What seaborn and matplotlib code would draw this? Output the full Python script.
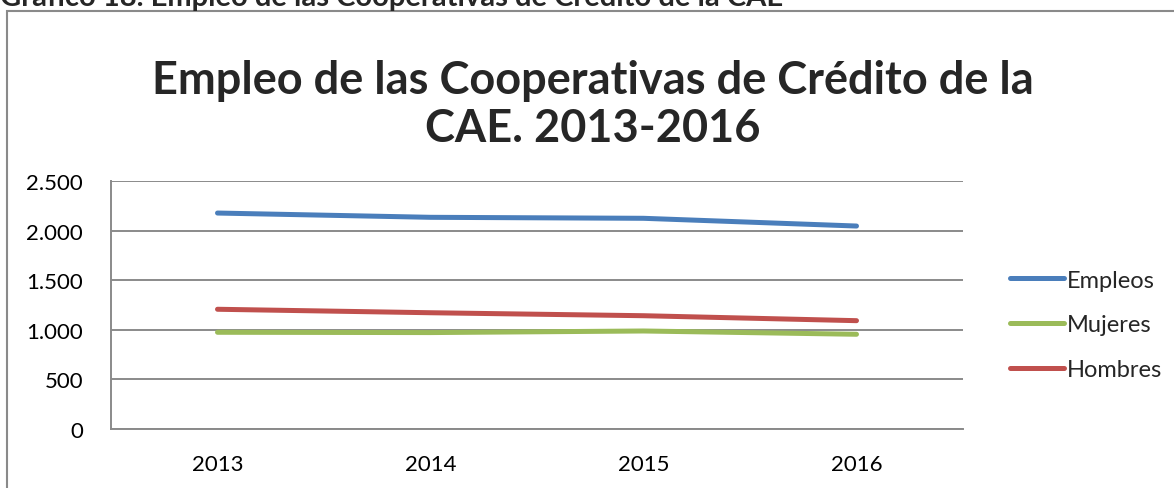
import pandas as pd
import matplotlib
matplotlib.use("Agg")
from matplotlib import pyplot as plt
from matplotlib.patches import Rectangle
import seaborn as sns

# data
years = ["2013", "2014", "2015", "2016"]
empleos = [2177, 2134, 2124, 2046]
mujeres = [975, 972, 988, 955]
hombres = [1207, 1172, 1142, 1092]

series_names = ["Empleos", "Mujeres", "Hombres"]
colors = ["#4A7EBB", "#9BBB59", "#C0504D"]

df = pd.DataFrame({"year": years * 3,
                   "valor": empleos + mujeres + hombres,
                   "serie": [s for s in series_names for _ in years]})

sns.set_theme(style="white")
plt.rcParams['font.family'] = ['Lato', 'DejaVu Sans']

W, H = 1174, 489
fig = plt.figure(figsize=(W / 100, H / 100), dpi=100)
ax = fig.add_axes([111 / W, 1 - 430 / H, (963 - 111) / W, (430 - 182) / H])

sns.lineplot(data=df, x="year", y="valor", hue="serie", palette=colors,
             linewidth=3.6, solid_capstyle="round", sort=False, ax=ax)

ax.set_xlim(-0.5, 3.5)
ax.set_ylim(0, 2500)
ax.set_yticks([0, 500, 1000, 1500, 2000, 2500])
ax.set_yticklabels(["0", "500", "1.000", "1.500", "2.000", "2.500"])
ax.grid(axis="y", color="#8a8a8a", linewidth=1.4)
ax.set_axisbelow(True)
for side in ["top", "right"]:
    ax.spines[side].set_visible(False)
for side in ["left", "bottom"]:
    ax.spines[side].set_color("#8a8a8a")
    ax.spines[side].set_linewidth(1.4)
ax.tick_params(axis="both", length=0, labelsize=16, colors="black")
ax.tick_params(axis="y", pad=20)
ax.tick_params(axis="x", pad=18)
ax.set_xlabel("")
ax.set_ylabel("")

leg = ax.legend(loc="center left", bbox_to_anchor=(1.03, 0.42), frameon=False,
                fontsize=17, handlelength=2.3, handletextpad=0.1,
                labelspacing=1.0)
for line in leg.get_lines():
    line.set_linewidth(3.6)
    line.set_solid_capstyle("round")

# chart title
fig.text(0.505, 1 - 94 / H, "Empleo de las Cooperativas de Crédito de la",
         ha="center", va="baseline", fontsize=32.5, fontweight="bold")
fig.text(0.505, 1 - 142 / H, "CAE. 2013-2016",
         ha="center", va="baseline", fontsize=32.5, fontweight="bold")

# document caption cut off at the top
fig.text(0.0, 1 - 6 / H,
         "Gráfico 18. Empleo de las Cooperativas de Crédito de la CAE",
         ha="left", va="baseline", fontsize=21, fontweight="bold")

# chart frame
fig.add_artist(Rectangle((7 / W, -0.2), 1.2, 1.2 - 12 / H,
                         transform=fig.transFigure, fill=False,
                         edgecolor="#8a8a8a", linewidth=1.5))

fig.savefig("out.png", dpi=100, facecolor="white")
